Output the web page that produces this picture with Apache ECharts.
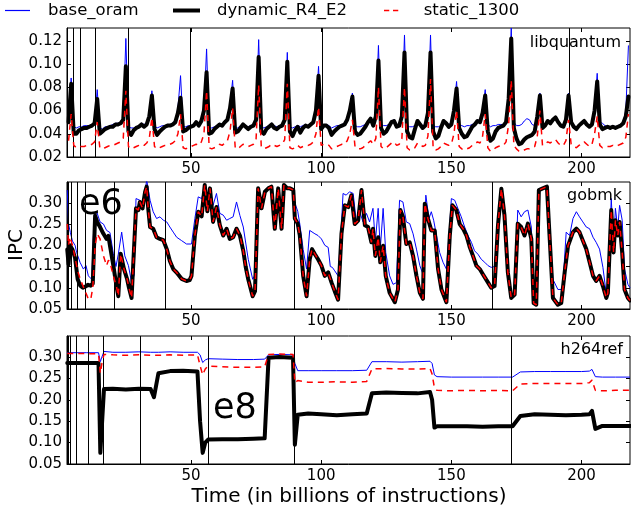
<!DOCTYPE html>
<html><head><meta charset="utf-8">
<script src="https://cdn.jsdelivr.net/npm/echarts@6/dist/echarts.min.js"></script>
<style>html,body{margin:0;padding:0;background:#fff}#c{width:631px;height:509px}</style>
</head><body><div id="c"></div>
<script>
const seriesNames = ['base_oram', 'dynamic_R4_E2', 'static_1300'];
const panelNames = ['libquantum', 'gobmk', 'h264ref'];
const xTicks = [50, 100, 150, 200];
const xMin = 2.4, xMax = 218.6;

// ---- libquantum: samples at x = 3, 4, ..., 218 ----
const libqXStart = 3;
const libqBase = [
0.050,0.088,0.046,0.045,0.046,0.046,0.047,0.047,0.047,0.048,
0.050,0.078,0.045,0.044,0.046,0.046,0.047,0.048,0.049,0.049,
0.050,0.053,0.122,0.046,0.045,0.045,0.046,0.047,0.049,0.048,
0.049,0.056,0.077,0.047,0.045,0.046,0.047,0.047,0.048,0.048,
0.049,0.052,0.062,0.090,0.046,0.046,0.047,0.047,0.048,0.050,
0.048,0.052,0.062,0.113,0.045,0.045,0.046,0.047,0.049,0.048,
0.051,0.053,0.065,0.086,0.045,0.045,0.047,0.049,0.047,0.046,
0.047,0.048,0.053,0.121,0.046,0.045,0.046,0.047,0.049,0.047,
0.046,0.047,0.048,0.053,0.110,0.046,0.045,0.046,0.047,0.046,
0.047,0.048,0.047,0.049,0.051,0.062,0.098,0.047,0.048,0.048,
0.047,0.045,0.046,0.047,0.047,0.048,0.049,0.053,0.062,0.075,
0.047,0.046,0.046,0.047,0.048,0.051,0.054,0.049,0.057,0.116,
0.048,0.047,0.047,0.048,0.051,0.052,0.048,0.048,0.057,0.125,
0.047,0.046,0.046,0.047,0.051,0.049,0.047,0.048,0.060,0.125,
0.047,0.046,0.046,0.047,0.051,0.050,0.048,0.049,0.062,0.085,
0.048,0.047,0.046,0.047,0.047,0.048,0.049,0.052,0.051,0.060,
0.078,0.048,0.046,0.047,0.047,0.048,0.048,0.048,0.051,0.075,
0.131,0.050,0.047,0.047,0.048,0.051,0.053,0.052,0.048,0.047,
0.057,0.075,0.048,0.048,0.052,0.050,0.052,0.054,0.051,0.048,
0.047,0.053,0.075,0.051,0.047,0.046,0.048,0.049,0.051,0.049,
0.047,0.049,0.062,0.092,0.050,0.049,0.047,0.046,0.046,0.047,
0.046,0.047,0.048,0.050,0.060,0.116];
const libqDyn = [
0.050,0.083,0.040,0.040,0.043,0.044,0.045,0.045,0.046,0.047,
0.049,0.070,0.040,0.042,0.044,0.045,0.046,0.046,0.048,0.048,
0.049,0.052,0.098,0.042,0.039,0.043,0.045,0.046,0.048,0.046,
0.048,0.055,0.073,0.044,0.039,0.042,0.044,0.046,0.047,0.047,
0.048,0.050,0.058,0.071,0.042,0.043,0.045,0.046,0.047,0.050,
0.047,0.051,0.060,0.093,0.040,0.041,0.044,0.046,0.048,0.047,
0.050,0.052,0.062,0.079,0.041,0.042,0.045,0.048,0.046,0.044,
0.046,0.047,0.052,0.106,0.042,0.040,0.044,0.046,0.048,0.045,
0.044,0.046,0.047,0.052,0.102,0.042,0.038,0.043,0.046,0.041,
0.045,0.047,0.046,0.048,0.050,0.060,0.090,0.044,0.047,0.047,
0.045,0.039,0.042,0.044,0.046,0.047,0.048,0.052,0.060,0.072,
0.042,0.039,0.040,0.043,0.046,0.050,0.053,0.047,0.055,0.103,
0.045,0.040,0.042,0.046,0.050,0.051,0.046,0.047,0.055,0.110,
0.042,0.037,0.036,0.044,0.051,0.048,0.045,0.047,0.058,0.110,
0.042,0.036,0.038,0.045,0.051,0.049,0.046,0.048,0.060,0.079,
0.045,0.040,0.037,0.038,0.042,0.046,0.048,0.051,0.050,0.058,
0.073,0.042,0.034,0.036,0.042,0.045,0.046,0.047,0.050,0.070,
0.122,0.045,0.036,0.031,0.032,0.035,0.037,0.038,0.039,0.042,
0.055,0.073,0.045,0.047,0.051,0.049,0.052,0.054,0.050,0.047,
0.046,0.052,0.073,0.050,0.046,0.044,0.047,0.049,0.051,0.048,
0.046,0.048,0.060,0.085,0.048,0.044,0.045,0.046,0.045,0.046,
0.045,0.046,0.047,0.049,0.055,0.072];
const libqStatic = [
0.034,0.057,0.030,0.028,0.029,0.029,0.029,0.030,0.030,0.031,
0.033,0.050,0.028,0.027,0.028,0.029,0.030,0.030,0.031,0.032,
0.033,0.036,0.077,0.029,0.027,0.028,0.029,0.030,0.031,0.030,
0.032,0.036,0.054,0.029,0.027,0.028,0.029,0.030,0.030,0.031,
0.032,0.034,0.040,0.057,0.028,0.027,0.028,0.029,0.030,0.031,
0.030,0.033,0.040,0.077,0.028,0.027,0.028,0.029,0.031,0.030,
0.032,0.034,0.042,0.062,0.028,0.027,0.029,0.031,0.030,0.029,
0.030,0.031,0.035,0.082,0.029,0.027,0.028,0.029,0.031,0.030,
0.029,0.030,0.031,0.035,0.083,0.028,0.027,0.028,0.030,0.028,
0.029,0.030,0.030,0.031,0.033,0.040,0.063,0.030,0.031,0.031,
0.030,0.027,0.028,0.029,0.030,0.031,0.031,0.034,0.040,0.052,
0.029,0.027,0.027,0.028,0.030,0.032,0.034,0.031,0.036,0.080,
0.029,0.027,0.028,0.030,0.032,0.033,0.030,0.031,0.036,0.080,
0.028,0.026,0.026,0.028,0.032,0.031,0.029,0.030,0.038,0.087,
0.028,0.026,0.027,0.029,0.032,0.031,0.030,0.031,0.040,0.060,
0.029,0.027,0.026,0.027,0.028,0.030,0.031,0.033,0.032,0.038,
0.057,0.028,0.025,0.026,0.028,0.029,0.030,0.030,0.033,0.048,
0.086,0.030,0.027,0.025,0.025,0.026,0.027,0.027,0.028,0.029,
0.038,0.060,0.030,0.031,0.033,0.032,0.034,0.035,0.032,0.030,
0.030,0.034,0.052,0.031,0.029,0.028,0.030,0.031,0.033,0.031,
0.029,0.031,0.040,0.055,0.030,0.028,0.029,0.029,0.029,0.030,
0.029,0.030,0.031,0.032,0.037,0.057];
const libqMarks = [4.7, 7.4, 13.4, 25.8, 49.8, 100.3, 195.1];
const libqYTicks = [0.02, 0.04, 0.06, 0.08, 0.10, 0.12];

// ---- gobmk: [x, IPC] readings ----
const gobmkBase = [[2.5,0.33],[3,0.25],[3.7,0.23],[4.5,0.21],[5.5,0.2],[6.1,0.183],[7.4,0.16],[8.7,0.144],[9.7,0.152],[10.6,0.128],[11.9,0.12],[12.8,0.263],[13.8,0.279],[15.1,0.255],[16.4,0.25],[17.6,0.235],[18.9,0.23],[20.2,0.18],[21.2,0.15],[22.1,0.179],[23.4,0.231],[24.6,0.175],[26,0.152],[27.2,0.112],[28.2,0.13],[28.9,0.31],[30.4,0.306],[31.6,0.287],[33,0.354],[34.3,0.306],[35.5,0.279],[36.8,0.263],[38.1,0.267],[39.4,0.259],[40.7,0.255],[41.9,0.243],[43.2,0.231],[44.5,0.219],[46.4,0.211],[48.3,0.203],[50.2,0.203],[51.5,0.263],[52.8,0.314],[54.1,0.31],[55.3,0.338],[56.3,0.3],[57.3,0.334],[58.5,0.294],[59.8,0.322],[61.1,0.275],[62.4,0.271],[63.7,0.259],[64.9,0.263],[66.2,0.267],[67.5,0.302],[68.8,0.27],[70.1,0.243],[72,0.167],[73.7,0.12],[74.6,0.13],[75.8,0.334],[77.1,0.3],[78.4,0.326],[79.7,0.334],[80.9,0.338],[82.2,0.26],[83.5,0.334],[84.8,0.26],[85.7,0.342],[87,0.334],[88,0.334],[89.3,0.33],[89.9,0.3],[91,0.28],[91.8,0.25],[93.1,0.19],[94.4,0.144],[95.6,0.235],[96.3,0.239],[97.6,0.227],[98.8,0.223],[100.1,0.215],[101.4,0.2],[102.7,0.195],[103.5,0.15],[104.3,0.148],[105.2,0.14],[105.9,0.144],[106.5,0.128],[107.8,0.25],[108.4,0.322],[109.6,0.318],[110.9,0.326],[112.3,0.322],[113.5,0.255],[114.8,0.279],[116.1,0.255],[117.4,0.275],[118.6,0.255],[119.9,0.287],[120.8,0.207],[121.9,0.287],[122.7,0.191],[123.8,0.287],[124.8,0.183],[126.3,0.128],[127.6,0.108],[128.9,0.112],[130.1,0.306],[131.4,0.302],[132.7,0.255],[134,0.251],[135.3,0.227],[136.6,0.191],[137.9,0.152],[139.1,0.132],[140.2,0.318],[141.4,0.263],[142.3,0.279],[143.2,0.259],[144.3,0.223],[145.5,0.183],[146.8,0.16],[148.1,0.144],[149.4,0.25],[150,0.31],[151.3,0.306],[152.5,0.287],[153.8,0.267],[155.1,0.243],[156.4,0.223],[157.7,0.207],[158.9,0.187],[160.2,0.179],[161.5,0.167],[162.8,0.16],[164.1,0.152],[165.3,0.148],[166.6,0.15],[167.9,0.247],[169.2,0.333],[170.4,0.27],[171.7,0.15],[173,0.085],[174.3,0.09],[175.5,0.283],[176.8,0.267],[178.1,0.279],[179.4,0.283],[180.7,0.243],[181.6,0.1],[182.6,0.065],[183.6,0.33],[185.1,0.334],[186.7,0.338],[187.7,0.24],[189,0.12],[190.9,0.096],[192.2,0.096],[192.8,0.104],[194.1,0.231],[195.4,0.223],[196.7,0.263],[198,0.279],[199.2,0.267],[200.5,0.255],[201.8,0.243],[203.1,0.239],[204.4,0.219],[205.6,0.207],[206.9,0.191],[208.2,0.148],[209.5,0.085],[210.1,0.1],[211.4,0.31],[212.3,0.2],[213,0.287],[213.9,0.239],[214.6,0.294],[215.6,0.259],[216.5,0.144],[217.8,0.108],[218.6,0.1]];
const gobmkDyn = [[2.5,0.19],[3,0.155],[3.5,0.2],[4.5,0.19],[5.5,0.17],[6.5,0.12],[7.5,0.105],[8.5,0.1],[9.5,0.103],[10.5,0.107],[11.5,0.105],[12.3,0.11],[13.2,0.27],[14,0.255],[15.1,0.243],[16.4,0.227],[17.6,0.215],[18.3,0.222],[18.9,0.199],[20.2,0.152],[21.5,0.1],[22.1,0.08],[23,0.18],[24.3,0.144],[25.5,0.12],[26.2,0.1],[27.2,0.076],[27.9,0.072],[28.9,0.287],[29.8,0.283],[30.4,0.302],[31.4,0.287],[32.4,0.326],[33,0.338],[33.6,0.286],[34.3,0.243],[35.5,0.239],[36.8,0.219],[38.1,0.215],[39.4,0.212],[40.7,0.191],[41.9,0.163],[43.2,0.144],[44.5,0.136],[45.2,0.14],[46.4,0.121],[48.3,0.116],[49.5,0.118],[50.2,0.128],[51.5,0.223],[52.8,0.279],[54.1,0.268],[55.3,0.342],[56.3,0.28],[57.3,0.334],[58.5,0.255],[59.8,0.29],[61.1,0.247],[62.4,0.223],[63.7,0.239],[64.9,0.215],[66.2,0.219],[67.5,0.239],[68.8,0.223],[70.1,0.187],[71,0.15],[72,0.12],[73.7,0.08],[74.6,0.092],[75.8,0.334],[77.1,0.287],[78.4,0.326],[79.7,0.334],[80.9,0.338],[82.2,0.239],[83.5,0.334],[84.8,0.239],[85.7,0.342],[87,0.334],[88,0.334],[89.3,0.33],[89.9,0.263],[91,0.251],[91.8,0.223],[93.1,0.128],[94.4,0.08],[95.6,0.167],[96.5,0.191],[97.6,0.179],[98.8,0.167],[100.1,0.152],[101.4,0.128],[102.7,0.136],[104,0.112],[105.2,0.092],[106.5,0.072],[107.8,0.227],[109.1,0.294],[110.4,0.29],[111.6,0.318],[112.9,0.25],[114.2,0.258],[115.5,0.33],[116.8,0.247],[118,0.243],[119.3,0.207],[119.9,0.239],[120.8,0.175],[121.9,0.219],[122.7,0.16],[123.8,0.199],[124.8,0.128],[126.3,0.088],[128.3,0.066],[129.5,0.096],[130.4,0.283],[131.4,0.267],[132.7,0.203],[134,0.207],[135.3,0.175],[136.6,0.128],[137.9,0.088],[139.1,0.074],[139.8,0.298],[141,0.263],[142.3,0.235],[143.6,0.235],[144.9,0.144],[146.2,0.096],[148.1,0.066],[149.4,0.223],[150.4,0.294],[151.9,0.283],[153.2,0.25],[154.5,0.239],[155.8,0.223],[157.1,0.195],[158.3,0.175],[159.6,0.152],[160.9,0.144],[162.1,0.132],[164.1,0.112],[165.3,0.1],[166.6,0.104],[167.9,0.247],[169.2,0.333],[170.4,0.27],[171.7,0.136],[173,0.076],[174.3,0.084],[175.5,0.251],[176.8,0.243],[178.1,0.223],[179.4,0.251],[180.7,0.215],[181.6,0.064],[182.6,0.06],[183.6,0.33],[185.1,0.334],[186.7,0.338],[187.7,0.223],[189,0.076],[190.9,0.06],[192.2,0.064],[193.5,0.136],[194.8,0.199],[196.7,0.231],[198,0.239],[199.2,0.231],[200.5,0.211],[201.8,0.191],[203.1,0.16],[204.4,0.128],[205.6,0.116],[206.9,0.128],[208.2,0.104],[209.5,0.076],[210.1,0.088],[211.4,0.283],[212.3,0.183],[213,0.259],[213.9,0.223],[214.6,0.255],[215.6,0.183],[216.5,0.096],[217.8,0.076],[218.6,0.07]];
const gobmkStatic = [[2.5,0.25],[3,0.2],[3.5,0.22],[4.5,0.2],[5.5,0.17],[6.5,0.14],[7.5,0.12],[8.5,0.105],[9.5,0.09],[10.5,0.075],[11.5,0.072],[12.3,0.1],[13.2,0.2],[14,0.227],[15.1,0.215],[16.4,0.175],[17.6,0.152],[18.3,0.165],[18.9,0.16],[20.2,0.128],[21.5,0.1],[22.1,0.08],[23,0.18],[24.3,0.144],[25.5,0.12],[26.2,0.1],[27.2,0.076],[27.9,0.072],[28.9,0.287],[29.8,0.283],[30.4,0.302],[31.4,0.287],[32.4,0.326],[33,0.338],[33.6,0.286],[34.3,0.243],[35.5,0.239],[36.8,0.219],[38.1,0.215],[39.4,0.212],[40.7,0.191],[41.9,0.163],[43.2,0.144],[44.5,0.136],[45.2,0.14],[46.4,0.121],[48.3,0.116],[49.5,0.118],[50.2,0.128],[51.5,0.223],[52.8,0.279],[54.1,0.268],[55.3,0.342],[56.3,0.28],[57.3,0.334],[58.5,0.255],[59.8,0.29],[61.1,0.247],[62.4,0.223],[63.7,0.239],[64.9,0.215],[66.2,0.219],[67.5,0.239],[68.8,0.223],[70.1,0.187],[71,0.15],[72,0.12],[73.7,0.08],[74.6,0.092],[75.8,0.334],[77.1,0.287],[78.4,0.326],[79.7,0.334],[80.9,0.338],[82.2,0.239],[83.5,0.334],[84.8,0.239],[85.7,0.342],[87,0.334],[88,0.334],[89.3,0.33],[89.9,0.263],[91,0.251],[91.8,0.223],[93.1,0.128],[94.4,0.08],[95.6,0.167],[96.5,0.191],[97.6,0.179],[98.8,0.167],[100.1,0.152],[101.4,0.128],[102.7,0.136],[104,0.112],[105.2,0.092],[106.5,0.072],[107.8,0.227],[109.1,0.294],[110.4,0.29],[111.6,0.318],[112.9,0.25],[114.2,0.258],[115.5,0.33],[116.8,0.247],[118,0.243],[119.3,0.207],[119.9,0.239],[120.8,0.175],[121.9,0.219],[122.7,0.16],[123.8,0.199],[124.8,0.128],[126.3,0.088],[128.3,0.066],[129.5,0.096],[130.4,0.283],[131.4,0.267],[132.7,0.203],[134,0.207],[135.3,0.175],[136.6,0.128],[137.9,0.088],[139.1,0.074],[139.8,0.298],[141,0.263],[142.3,0.235],[143.6,0.235],[144.9,0.144],[146.2,0.096],[148.1,0.066],[149.4,0.223],[150.4,0.294],[151.9,0.283],[153.2,0.25],[154.5,0.239],[155.8,0.223],[157.1,0.195],[158.3,0.175],[159.6,0.152],[160.9,0.144],[162.1,0.132],[164.1,0.112],[165.3,0.1],[166.6,0.104],[167.9,0.247],[169.2,0.333],[170.4,0.27],[171.7,0.136],[173,0.076],[174.3,0.084],[175.5,0.251],[176.8,0.243],[178.1,0.223],[179.4,0.251],[180.7,0.215],[181.6,0.064],[182.6,0.06],[183.6,0.33],[185.1,0.334],[186.7,0.338],[187.7,0.223],[189,0.076],[190.9,0.06],[192.2,0.064],[193.5,0.136],[194.8,0.199],[196.7,0.231],[198,0.239],[199.2,0.231],[200.5,0.211],[201.8,0.191],[203.1,0.16],[204.4,0.128],[205.6,0.116],[206.9,0.128],[208.2,0.104],[209.5,0.076],[210.1,0.088],[211.4,0.283],[212.3,0.183],[213,0.259],[213.9,0.223],[214.6,0.255],[215.6,0.183],[216.5,0.096],[217.8,0.076],[218.6,0.07]];
const gobmkMarks = [2.7, 4.2, 6.4, 9.6, 20.6, 40.3, 89.6, 165.6];
const ipcYTicks = [0.05, 0.10, 0.15, 0.20, 0.25, 0.30];

// ---- h264ref: shared sample x values ----
const h264X = [2.5,6,10,14.5,15.2,15.8,16.6,20,25,30,34.5,35.8,37.5,42,47,52.5,53.5,54.5,55.5,56.6,62,68,74,78.3,79.8,84,89.2,89.9,91,95,100,106,112,117.5,119.5,125,131,137,141.8,142.6,143.5,144.5,150,156,162,168,173.5,176.5,182,188,194,200,203,204,205.3,208,213,218.6];
const h264Base = [0.310,0.310,0.310,0.310,0.289,0.300,0.313,0.311,0.311,0.312,0.311,0.311,0.311,0.312,0.311,0.311,0.305,0.287,0.293,0.296,0.295,0.294,0.294,0.295,0.305,0.306,0.305,0.285,0.268,0.268,0.268,0.268,0.268,0.269,0.289,0.289,0.288,0.289,0.290,0.285,0.258,0.254,0.253,0.253,0.253,0.253,0.253,0.265,0.266,0.266,0.266,0.266,0.267,0.271,0.254,0.253,0.253,0.253];
const h264Dyn = [0.286,0.286,0.286,0.286,0.076,0.080,0.225,0.226,0.224,0.226,0.225,0.206,0.262,0.267,0.268,0.266,0.150,0.076,0.100,0.107,0.108,0.108,0.109,0.110,0.298,0.300,0.298,0.095,0.165,0.168,0.166,0.164,0.166,0.168,0.215,0.217,0.216,0.215,0.218,0.200,0.135,0.138,0.138,0.138,0.137,0.138,0.138,0.162,0.166,0.165,0.164,0.165,0.166,0.174,0.132,0.139,0.139,0.139];
const h264Static = [0.308,0.308,0.308,0.307,0.262,0.285,0.306,0.305,0.304,0.305,0.304,0.304,0.304,0.305,0.304,0.305,0.280,0.258,0.272,0.279,0.277,0.276,0.276,0.277,0.306,0.307,0.306,0.240,0.245,0.241,0.241,0.242,0.241,0.243,0.272,0.273,0.272,0.272,0.273,0.260,0.228,0.222,0.221,0.222,0.221,0.222,0.221,0.237,0.238,0.238,0.238,0.238,0.240,0.246,0.222,0.221,0.222,0.222];
const h264Marks = [2.9, 3.8, 6.1, 10.4, 16.3, 30.7, 56.8, 89.8, 173.1];

const annotations = [{ text: 'e6', panel: 1 }, { text: 'e8', panel: 2 }];

// ---------------------------------------------------------------
const FONT = 'DejaVu Sans';
const colors = ['#0000ff', '#000000', '#ff0000'];
const grids = [
  { left: 67, top: 28, width: 563, height: 129 },
  { left: 67, top: 182, width: 563, height: 127 },
  { left: 67, top: 336, width: 563, height: 128 }
];
const yRanges = [[0.02, 0.131, libqYTicks], [0.05, 0.349, ipcYTicks], [0.05, 0.349, ipcYTicks]];

const libqPairs = arr => arr.map((v, i) => [libqXStart + i, v]);
const zipX = (xs, ys) => xs.map((x, i) => [x, ys[i]]);
const panelData = [
  [libqPairs(libqBase), libqPairs(libqDyn), libqPairs(libqStatic)],
  [gobmkBase, gobmkDyn, gobmkStatic],
  [zipX(h264X, h264Base), zipX(h264X, h264Dyn), zipX(h264X, h264Static)]
];
const panelMarks = [libqMarks, gobmkMarks, h264Marks];

const xAxes = [], yAxes = [], series = [];
grids.forEach((g, p) => {
  g.show = true; g.borderColor = '#000'; g.borderWidth = 1; g.backgroundColor = 'transparent';
  const tickCommon = { show: true, inside: true, length: 4, lineStyle: { color: '#000', width: 1 }, customValues: xTicks };
  xAxes.push({ gridIndex: p, type: 'value', min: xMin, max: xMax, position: 'bottom',
    axisLine: { show: true, lineStyle: { color: '#000', width: 1 } },
    axisTick: tickCommon,
    axisLabel: { show: true, customValues: xTicks, color: '#000', fontFamily: FONT, fontSize: 15, margin: 5 },
    splitLine: { show: false } });
  xAxes.push({ gridIndex: p, type: 'value', min: xMin, max: xMax, position: 'top',
    axisLine: { show: false }, axisTick: tickCommon, axisLabel: { show: false }, splitLine: { show: false } });
  const [ymin, ymax, yt] = yRanges[p];
  const yTick = { show: true, inside: true, length: 4, lineStyle: { color: '#000', width: 1 }, customValues: yt };
  yAxes.push({ gridIndex: p, type: 'value', min: ymin, max: ymax, position: 'left',
    axisLine: { show: true, lineStyle: { color: '#000', width: 1 } },
    axisTick: yTick,
    axisLabel: { show: true, customValues: yt, formatter: v => v.toFixed(2), color: '#000', fontFamily: FONT, fontSize: 15, margin: 5 },
    splitLine: { show: false } });
  yAxes.push({ gridIndex: p, type: 'value', min: ymin, max: ymax, position: 'right',
    axisLine: { show: false }, axisTick: yTick, axisLabel: { show: false }, splitLine: { show: false } });

  panelData[p].forEach((d, s) => {
    const ser = {
      name: seriesNames[s], type: 'line', xAxisIndex: p * 2, yAxisIndex: p * 2,
      data: d, symbol: 'none', showSymbol: false, animation: false, silent: true,
      z: 3 + s, clip: true,
      lineStyle: s === 0 ? { color: colors[0], width: 1 }
        : s === 1 ? { color: colors[1], width: 4, join: 'round', cap: 'round' }
        : { color: colors[2], width: 1.5, type: [6, 5] },
      itemStyle: { color: colors[s] }
    };
    if (s === 0) {
      ser.markLine = { silent: true, symbol: ['none', 'none'], animation: false, label: { show: false },
        lineStyle: { color: '#000', width: 1, type: 'solid' },
        data: panelMarks[p].map(v => ({ xAxis: v })) };
    }
    series.push(ser);
  });
});

const legendSpecs = [
  { left: 5, icon: 'rect', w: 25, h: 1.2, pad: 13 },
  { left: 173, icon: 'rect', w: 27, h: 4, pad: 12 },
  { left: 384, icon: 'path://M0,0h7v2h-7zM12,0h7v2h-7z', w: 19, h: 1.5, pad: 18 }
];
const legends = seriesNames.map((n, i) => ({
  data: [n], left: legendSpecs[i].left, top: 2, padding: 0,
  icon: legendSpecs[i].icon, itemWidth: legendSpecs[i].w, itemHeight: legendSpecs[i].h,
  itemStyle: { color: colors[i], borderWidth: 0 },
  selectedMode: false,
  textStyle: { fontFamily: FONT, fontSize: 16.5, color: '#000', padding: [0, 0, 0, legendSpecs[i].pad] }
}));

const graphics = [
  { type: 'text', x: 621, y: 43, style: { text: panelNames[0], font: '16px "DejaVu Sans"', fill: '#000', align: 'right', verticalAlign: 'middle' } },
  { type: 'text', x: 622, y: 196, style: { text: panelNames[1], font: '16px "DejaVu Sans"', fill: '#000', align: 'right', verticalAlign: 'middle' } },
  { type: 'text', x: 623, y: 350, style: { text: panelNames[2], font: '16px "DejaVu Sans"', fill: '#000', align: 'right', verticalAlign: 'middle' } },
  { type: 'text', x: 79, y: 205, style: { text: annotations[0].text, font: '35px "DejaVu Sans"', fill: '#000', align: 'left', verticalAlign: 'middle' } },
  { type: 'text', x: 213, y: 409, style: { text: annotations[1].text, font: '35px "DejaVu Sans"', fill: '#000', align: 'left', verticalAlign: 'middle' } },
  { type: 'text', x: 349, y: 497, style: { text: 'Time (in billions of instructions)', font: '20px "DejaVu Sans"', fill: '#000', align: 'center', verticalAlign: 'middle' } },
  { type: 'text', x: 17, y: 245, rotation: Math.PI / 2, style: { text: 'IPC', font: '20px "DejaVu Sans"', fill: '#000', align: 'center', verticalAlign: 'middle' } }
];
graphics.forEach(g => { g.z = 100; });

const chart = echarts.init(document.getElementById('c'), null, { renderer: 'canvas' });
chart.setOption({
  animation: false,
  backgroundColor: '#fff',
  grid: grids, xAxis: xAxes, yAxis: yAxes, series: series,
  legend: legends, graphic: graphics
});
</script></body></html>
